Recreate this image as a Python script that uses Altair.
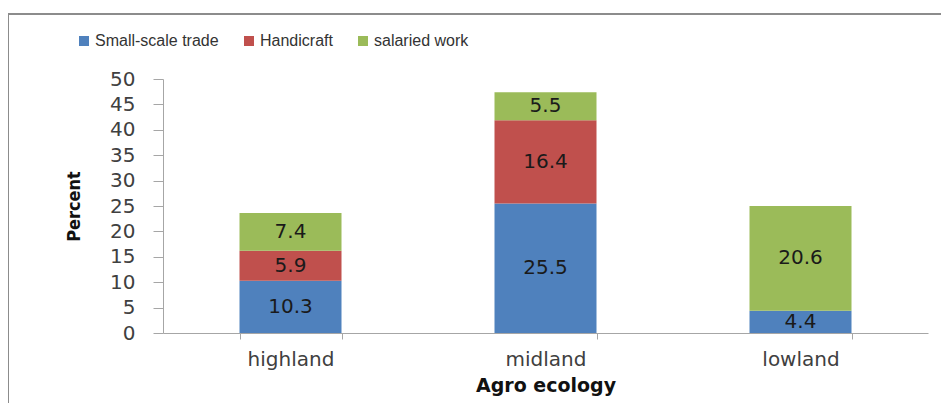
import altair as alt
import pandas as pd

ecologies = ["highland", "midland", "lowland"]
series = ["Small-scale trade", "Handicraft", "salaried work"]
small_trade = [10.3, 25.5, 4.4]
handicraft = [5.9, 16.4, 0.0]
salaried = [7.4, 5.5, 20.6]
colors = ["#4F81BD", "#C0504D", "#9BBB59"]
y_ticks = [0, 5, 10, 15, 20, 25, 30, 35, 40, 45, 50]

rows = []
for i, eco in enumerate(ecologies):
    for k, (name, vals) in enumerate(zip(series, [small_trade, handicraft, salaried])):
        rows.append({"eco": eco, "series": name, "value": vals[i], "ord": k})
df = pd.DataFrame(rows)

FONT = "DejaVu Sans"

base = alt.Chart(df).transform_stack(
    stack="value", groupby=["eco"], as_=["v0", "v1"], sort=[alt.SortField("ord")]
)

xaxis = alt.Axis(
    title="Agro ecology",
    labelAngle=0,
    tickBand="extent",
    tickSize=6,
    labelPadding=10,
    labelFont=FONT,
    labelFontSize=20,
    labelColor="#404040",
    titleFont=FONT,
    titleFontSize=19,
    titleFontWeight="bold",
    titleColor="#111111",
    titlePadding=7,
    domainColor="#a6a6a6",
    tickColor="#a6a6a6",
    grid=False,
)

yaxis = alt.Axis(
    title="Percent",
    values=y_ticks,
    labelOverlap=False,
    tickSize=10,
    labelPadding=18,
    labelFont=FONT,
    labelFontSize=20,
    labelColor="#404040",
    titleFont="DejaVu Sans Condensed",
    titleFontSize=18,
    titleFontWeight="bold",
    titleColor="#111111",
    titlePadding=26,
    domainColor="#a6a6a6",
    tickColor="#a6a6a6",
    grid=False,
)

xscale = alt.Scale(paddingInner=0.6, paddingOuter=0.3)
yscale = alt.Scale(domain=[0, 50], nice=False)

bars = base.mark_bar().encode(
    x=alt.X("eco:N", sort=ecologies, scale=xscale, axis=xaxis),
    y=alt.Y("v0:Q", scale=yscale, axis=yaxis),
    y2="v1:Q",
    color=alt.Color(
        "series:N",
        scale=alt.Scale(domain=series, range=colors),
        legend=alt.Legend(
            title=None,
            orient="none",
            legendX=-87,
            legendY=-46,
            direction="horizontal",
            symbolType="square",
            symbolSize=100,
            symbolStrokeWidth=0,
            labelFont="Liberation Sans",
            labelFontSize=16,
            labelColor="#333333",
            labelOffset=3,
            columnPadding=22,
            padding=0,
        ),
    ),
    order=alt.Order("ord:Q"),
)

labels = base.transform_filter("datum.value > 0").transform_calculate(
    mid="(datum.v0 + datum.v1) / 2"
).mark_text(font=FONT, fontSize=20, color="#1a1a1a", baseline="middle").encode(
    x=alt.X("eco:N", sort=ecologies, scale=xscale, axis=xaxis),
    y=alt.Y("mid:Q", scale=yscale, axis=yaxis),
    text=alt.Text("value:Q", format=".1f"),
)

border = alt.Chart(pd.DataFrame({"a": [0]})).mark_rect(
    fillOpacity=0, stroke="#8c8c8c", strokeWidth=2
).encode(
    x=alt.value(-155), x2=alt.value(820), y=alt.value(-65), y2=alt.value(360)
)

chart = alt.layer(bars, labels, border).properties(
    width=765,
    height=254,
    autosize=alt.AutoSizeParams(type="none"),
    padding={"left": 155, "top": 71, "right": 13, "bottom": 70},
    background="white",
).configure_view(stroke=None)

chart.save("out.html", embed_options={"renderer": "svg", "actions": False})
